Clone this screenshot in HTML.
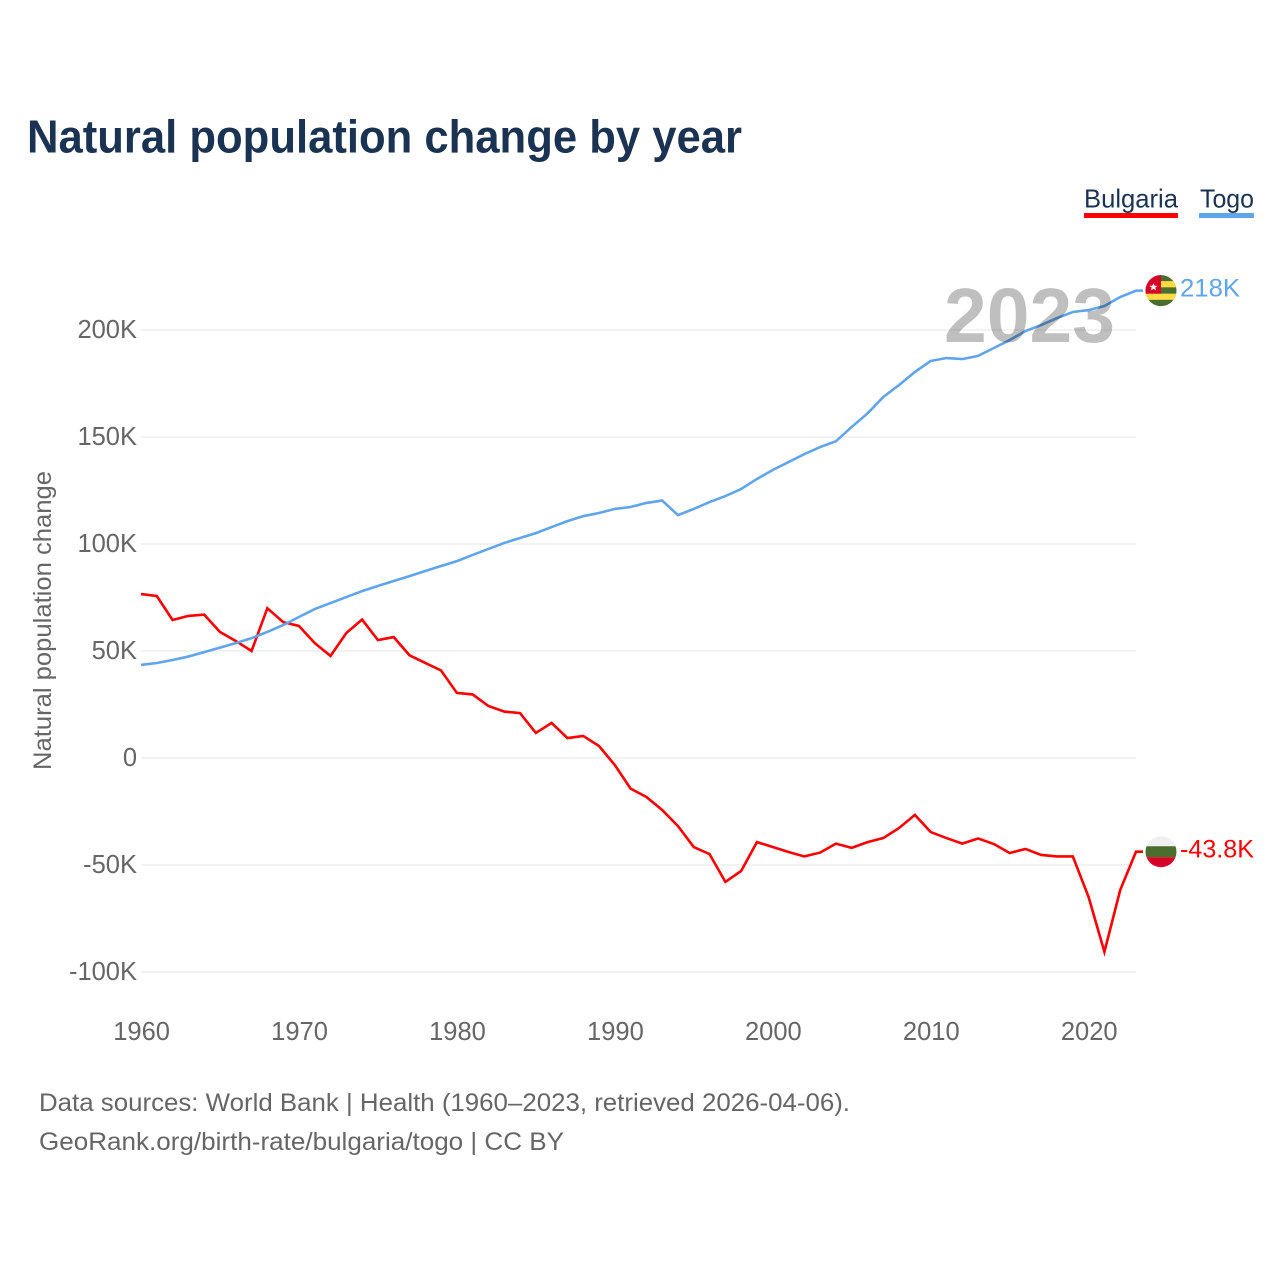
<!DOCTYPE html>
<html lang="en">
<head>
<meta charset="utf-8">
<title>Natural population change by year</title>
<style>
html,body{margin:0;padding:0;background:#fff}
svg{display:block}
text{font-family:"Liberation Sans",sans-serif}
</style>
</head>
<body>
<svg id="chart" xmlns="http://www.w3.org/2000/svg" width="1280" height="1280" viewBox="0 0 1280 1280">
<rect width="1280" height="1280" fill="#fff"/>
<text x="27" y="152.5" font-size="46" font-weight="700" fill="#1a3352" textLength="715" lengthAdjust="spacingAndGlyphs">Natural population change by year</text>
<g>
<text x="1084" y="207.5" font-size="26" fill="#1a3352" textLength="94" lengthAdjust="spacingAndGlyphs">Bulgaria</text>
<rect x="1084" y="213" width="94" height="5" fill="#ff0000"/>
</g>
<g>
<text x="1200" y="207.5" font-size="26" fill="#1a3352" textLength="54" lengthAdjust="spacingAndGlyphs">Togo</text>
<rect x="1199" y="213" width="55" height="5" fill="#60a5eb"/>
</g>
<text transform="translate(51 770) rotate(-90)" font-size="25" fill="#666" textLength="299" lengthAdjust="spacingAndGlyphs">Natural population change</text>
<g id="grid"></g>
<g id="yticks"></g>
<g id="xticks"></g>
<g id="series"></g>
<text x="944" y="342" font-size="77" font-weight="700" fill="#000" fill-opacity="0.25" textLength="171" lengthAdjust="spacingAndGlyphs">2023</text>
<defs>
<clipPath id="flag-clip"><circle cx="0" cy="0" r="15.5"/></clipPath>
</defs>
<g id="flag-togo">
<g clip-path="url(#flag-clip)">
<rect x="-16" y="-16" width="32" height="32" fill="#496e2d"/>
<rect x="-16" y="-9.5" width="32" height="6.2" fill="#ffda44"/>
<rect x="-16" y="3" width="32" height="6.2" fill="#ffda44"/>
<rect x="-16" y="-16" width="16" height="19" fill="#d80027"/>
<polygon points="-7.5,-7.5 -6.3,-4.9 -3.4,-4.9 -5.6,-3.1 -4.9,-0.3 -7.5,-1.8 -10.1,-0.3 -9.4,-3.1 -11.6,-4.9 -8.7,-4.9" fill="#f0f0f0"/>
</g>
</g>
<g id="flag-bulgaria">
<g clip-path="url(#flag-clip)">
<rect x="-16" y="-16" width="32" height="11" fill="#f0f0f0"/>
<rect x="-16" y="-5.5" width="32" height="11" fill="#496e2d"/>
<rect x="-16" y="5.5" width="32" height="11" fill="#d80027"/>
</g>
</g>
<text id="label-togo" x="1180" font-size="25" fill="#60a5eb" textLength="60" lengthAdjust="spacingAndGlyphs">218K</text>
<text id="label-bulgaria" x="1180" font-size="25" fill="#ff0000" textLength="74" lengthAdjust="spacingAndGlyphs">-43.8K</text>
<text x="39" y="1111" font-size="25" fill="#666" textLength="811" lengthAdjust="spacingAndGlyphs">Data sources: World Bank | Health (1960–2023, retrieved 2026-04-06).</text>
<text x="39" y="1150" font-size="25" fill="#666" textLength="525" lengthAdjust="spacingAndGlyphs">GeoRank.org/birth-rate/bulgaria/togo | CC BY</text>
</svg>
<script>
const startYear = 1960;
const endYear = 2023;
const bulgariaValues = [76.6,75.7,64.5,66.4,67,58.9,54.7,50,70,63.5,61.7,53.7,47.7,58.4,64.7,55.1,56.5,48,44.4,40.9,30.4,29.7,24.3,21.7,21,11.7,16.4,9.3,10.3,5.6,-3.3,-14.3,-18.2,-24.3,-31.8,-41.6,-44.9,-57.9,-52.8,-39.3,-41.6,-43.9,-46,-44.2,-40,-42,-39.3,-37.4,-32.7,-26.6,-34.6,-37.4,-40,-37.6,-40.2,-44.4,-42.5,-45.3,-46,-46,-65,-90.6,-61.7,-43.8];
const togoValues = [43.5,44.4,45.8,47.4,49.5,51.6,53.7,56,58.9,62.1,65.9,69.6,72.4,75.2,78,80.4,82.7,85,87.4,89.7,92,94.9,97.7,100.5,102.8,105.1,107.9,110.7,113,114.5,116.4,117.3,119.2,120.3,113.5,116.4,119.6,122.4,125.7,130.4,134.6,138.3,142,145.3,148,154.7,161,168.7,174.3,180.4,185.5,186.9,186.4,187.9,191.6,195.3,199.5,202.3,205.6,208.4,209.3,211.2,215.4,218.4];
const yTickValues = [200,150,100,50,0,-50,-100];
const yTickLabels = ['200K','150K','100K','50K','0','-50K','-100K'];
const xTickValues = [1960,1970,1980,1990,2000,2010,2020];

const NS = 'http://www.w3.org/2000/svg';
function xScale(year){ return 141 + (year - startYear) * (1136 - 141) / (endYear - startYear); }
function yScale(v){ return 758 - v * 2.14; }

const grid = document.getElementById('grid');
const yticks = document.getElementById('yticks');
const xticks = document.getElementById('xticks');
const series = document.getElementById('series');

yTickValues.forEach(function(v, i){
  const line = document.createElementNS(NS, 'line');
  
  
  line.setAttribute('x1', 141);
  line.setAttribute('x2', 1136);
  line.setAttribute('y1', yScale(v));
  line.setAttribute('y2', yScale(v));
  line.setAttribute('stroke', '#ebebeb');
  line.setAttribute('stroke-width', '1.3');
  grid.appendChild(line);

  const t = document.createElementNS(NS, 'text');
  
  
  t.setAttribute('x', 137);
  t.setAttribute('y', yScale(v) + 8);
  t.setAttribute('text-anchor', 'end');
  t.setAttribute('font-size', '25.5');
  t.setAttribute('fill', '#666');
  t.textContent = yTickLabels[i];
  yticks.appendChild(t);
});

xTickValues.forEach(function(year){
  const t = document.createElementNS(NS, 'text');
  
  
  t.setAttribute('x', xScale(year) + 0.6);
  t.setAttribute('y', 1040);
  t.setAttribute('text-anchor', 'middle');
  t.setAttribute('font-size', '25.5');
  t.setAttribute('fill', '#666');
  t.textContent = String(year);
  xticks.appendChild(t);
});

function linePath(values){
  let d = '';
  values.forEach(function(v, i){
    d += (i ? 'L' : 'M') + xScale(startYear + i).toFixed(2) + ' ' + yScale(v).toFixed(2);
  });
  return d;
}

const bulgariaLine = document.createElementNS(NS, 'path');


bulgariaLine.setAttribute('d', linePath(bulgariaValues) + 'H1143');
bulgariaLine.setAttribute('fill', 'none');
bulgariaLine.setAttribute('stroke', '#ff0000');
bulgariaLine.setAttribute('stroke-width', '2.6');
series.appendChild(bulgariaLine);

const togoLine = document.createElementNS(NS, 'path');


togoLine.setAttribute('d', linePath(togoValues) + 'H1143');
togoLine.setAttribute('fill', 'none');
togoLine.setAttribute('stroke', '#60a5eb');
togoLine.setAttribute('stroke-width', '2.6');
series.appendChild(togoLine);

const togoEnd = yScale(togoValues[togoValues.length - 1]);
const bulgariaEnd = yScale(bulgariaValues[bulgariaValues.length - 1]);
document.getElementById('flag-togo').setAttribute('transform', 'translate(1161 ' + togoEnd + ')');
document.getElementById('flag-bulgaria').setAttribute('transform', 'translate(1161 ' + bulgariaEnd + ')');
document.getElementById('label-togo').setAttribute('y', togoEnd + 6);
document.getElementById('label-bulgaria').setAttribute('y', bulgariaEnd + 6);
</script>
</body>
</html>
